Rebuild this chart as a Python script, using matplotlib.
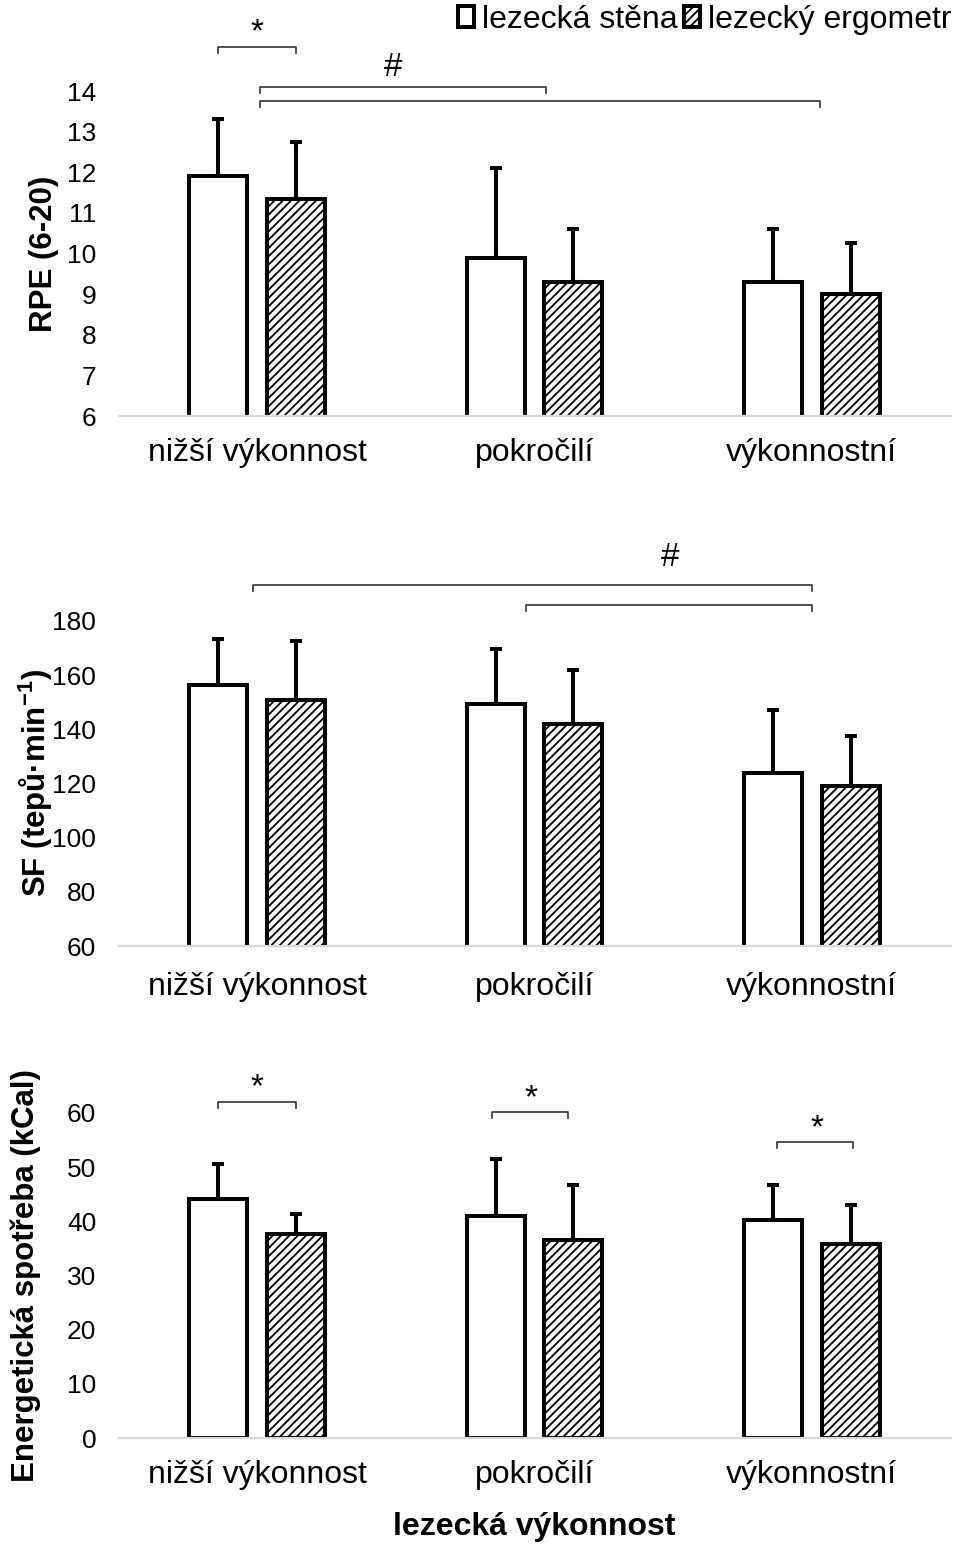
import numpy as np
import matplotlib
matplotlib.use("Agg")
import matplotlib.pyplot as plt
from matplotlib.patches import Patch

plt.rcParams['font.family'] = ['Liberation Sans', 'DejaVu Sans']
plt.rcParams['hatch.linewidth'] = 1.3
plt.rcParams['mathtext.fontset'] = 'custom'
plt.rcParams['mathtext.rm'] = 'Liberation Sans'
plt.rcParams['mathtext.bf'] = 'Liberation Sans:bold'

categories = ['nižší výkonnost', 'pokročilí', 'výkonnostní']
series = ['lezecká stěna', 'lezecký ergometr']

# RPE (6-20)
rpe_wall = [11.9, 9.9, 9.3]
rpe_wall_sd = [1.4, 2.2, 1.3]
rpe_erg = [11.35, 9.3, 9.0]
rpe_erg_sd = [1.4, 1.3, 1.25]

# SF (tepu/min)
hr_wall = [156.5, 149.5, 124.0]
hr_wall_sd = [17.0, 20.0, 23.0]
hr_erg = [151.0, 142.0, 119.0]
hr_erg_sd = [21.5, 20.0, 18.5]

# energeticka spotreba (kCal)
ee_wall = [44.1, 40.9, 40.3]
ee_wall_sd = [6.5, 10.7, 6.4]
ee_erg = [37.7, 36.5, 35.8]
ee_erg_sd = [3.6, 10.2, 7.2]

W, H = 959, 1545
fig = plt.figure(figsize=(W / 100, H / 100), dpi=100)


def px_axes(left, top, right, bottom):
    return fig.add_axes([left / W, 1 - bottom / H, (right - left) / W, (bottom - top) / H])


bw = 0.21
off = 0.14
edge_lw = 2.9


def draw_panel(ax, wall, wall_sd, erg, erg_sd, ylim, yticks, ylabel, label_x, xpad=16):
    x = np.arange(len(categories))
    zeros = np.zeros(len(categories))
    for xs, vals, sd in [(x - off, wall, wall_sd), (x + off, erg, erg_sd)]:
        ax.errorbar(xs, vals, yerr=[zeros, sd], fmt='none', ecolor='black',
                    elinewidth=edge_lw, capsize=4.3, capthick=edge_lw, zorder=1)
    ax.bar(x - off, wall, width=bw, color='white', edgecolor='black',
           linewidth=edge_lw, zorder=2)
    ax.bar(x + off, erg, width=bw, color='white', edgecolor='black',
           linewidth=edge_lw, hatch='////', zorder=2)
    ax.set_xlim(-0.5, 2.5)
    ax.set_ylim(*ylim)
    ax.set_yticks(yticks)
    ax.set_xticks(x)
    ax.set_xticklabels(categories, fontsize=23)
    ax.tick_params(axis='both', length=0)
    ax.tick_params(axis='y', labelsize=19, pad=16)
    ax.tick_params(axis='x', pad=xpad)
    for s in ['top', 'right', 'left']:
        ax.spines[s].set_visible(False)
    ax.spines['bottom'].set_color('#d9d9d9')
    ax.spines['bottom'].set_linewidth(1.6)
    ax.set_ylabel(ylabel, fontsize=22.5, fontweight='bold')
    ax.yaxis.set_label_coords(label_x, 0.5)


def bracket(ax, x0, x1, y, drop):
    ax.plot([x0, x0, x1, x1], [y - drop, y, y, y - drop], color='#333333',
            lw=1.2, clip_on=False, zorder=3)


def mark(ax, x, y, s):
    ax.text(x, y, s, ha='center', va='center', fontsize=24, clip_on=False)


ax1 = px_axes(118.5, 91, 950.5, 416)
draw_panel(ax1, rpe_wall, rpe_wall_sd, rpe_erg, rpe_erg_sd,
           (6, 14), range(6, 15), 'RPE (6-20)', -0.071)
bracket(ax1, -0.14, 0.14, 15.09, 0.15)
mark(ax1, 0.0, 15.43, '*')
bracket(ax1, 0.01, 1.04, 14.1, 0.15)
bracket(ax1, 0.01, 2.03, 13.76, 0.15)
mark(ax1, 0.49, 14.57, '#')

ax2 = px_axes(118.5, 621, 950.5, 946)
draw_panel(ax2, hr_wall, hr_wall_sd, hr_erg, hr_erg_sd,
           (60, 180), range(60, 181, 20), r'SF (tepů·min$^{\mathbf{-1}}$)', -0.076, xpad=19)
bracket(ax2, -0.015, 2.0, 193.3, 2.2)
bracket(ax2, 0.97, 2.0, 185.9, 2.2)
mark(ax2, 1.49, 203.6, '#')

ax3 = px_axes(118.5, 1113, 950.5, 1438)
draw_panel(ax3, ee_wall, ee_wall_sd, ee_erg, ee_erg_sd,
           (0, 60), range(0, 61, 10), 'Energetická spotřeba (kCal)', -0.093)
bracket(ax3, -0.14, 0.14, 62.1, 1.1)
mark(ax3, 0.0, 64.7, '*')
bracket(ax3, 0.845, 1.12, 60.1, 1.1)
mark(ax3, 0.986, 62.7, '*')
bracket(ax3, 1.874, 2.148, 54.6, 1.1)
mark(ax3, 2.02, 57.1, '*')
ax3.set_xlabel('lezecká výkonnost', fontsize=23, fontweight='bold', labelpad=16)

handles = [Patch(facecolor='white', edgecolor='black', linewidth=2.9),
           Patch(facecolor='white', edgecolor='black', linewidth=2.9, hatch='////')]
fig.legend(handles, series, loc='upper left', bbox_to_anchor=(458 / W, 1 - 5 / H),
           ncol=2, frameon=False, fontsize=23, handlelength=0.5, handleheight=0.65,
           handletextpad=0.25, columnspacing=0.2, borderpad=0, borderaxespad=0)

fig.savefig('out.png', dpi=100)
